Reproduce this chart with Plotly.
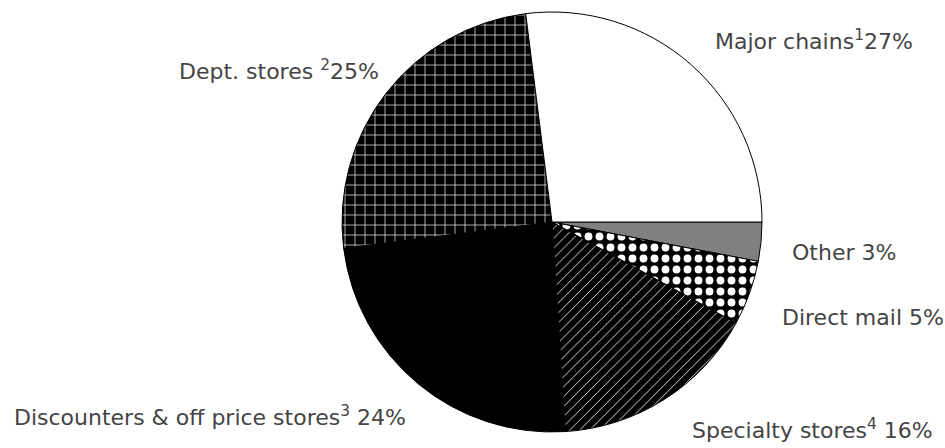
import plotly.graph_objects as go

# ---- data ----
labels = ["Other", "Direct mail", "Specialty stores", "Discounters & off price stores", "Dept. stores", "Major chains"]
values = [3, 5, 16, 24, 25, 27]
footnotes = ["", "", "4", "3", "2", "1"]

# ---- styles ----
fill_colors = ["#808080", "#000000", "#000000", "#000000", "#000000", "#ffffff"]
pattern_shapes = ["", ".", "/", "", "+", ""]
pattern_fg = ["#808080", "#ffffff", "#ffffff", "#000000", "#ffffff", "#ffffff"]
pattern_bg = ["#808080", "#000000", "#000000", "#000000", "#000000", "#ffffff"]
pattern_size = [8, 11, 7, 8, 10, 8]
pattern_solidity = [0.3, 0.4, 0.12, 0.3, 0.13, 0.3]

# label placement (pixel anchors: left x, middle y)
label_pos = {
    "Other": (790, 252),
    "Direct mail": (780, 317),
    "Specialty stores": (690, 429),
    "Discounters & off price stores": (12, 416),
    "Dept. stores": (177, 70),
    "Major chains": (713, 40),
}

W, H = 945, 448
cx, cy, r = 552, 222, 210

fig = go.Figure(go.Pie(
    labels=labels,
    values=values,
    sort=False,
    direction="clockwise",
    rotation=90,
    textinfo="none",
    hoverinfo="skip",
    showlegend=False,
    marker=dict(
        colors=fill_colors,
        line=dict(color="#000000", width=1),
        pattern=dict(
            shape=pattern_shapes,
            fgcolor=pattern_fg,
            bgcolor=pattern_bg,
            size=pattern_size,
            solidity=pattern_solidity,
            fillmode="replace",
        ),
    ),
    domain=dict(x=[(cx - r) / W, (cx + r) / W], y=[(H - cy - r) / H, (H - cy + r) / H]),
))

annotations = []
for lab, val, fn in zip(labels, values, footnotes):
    if fn:
        if lab == "Dept. stores":
            txt = f"{lab} <sup>{fn}</sup>{val}%"
        elif lab == "Major chains":
            txt = f"{lab}<sup>{fn}</sup>{val}%"
        else:
            txt = f"{lab}<sup>{fn}</sup> {val}%"
    else:
        txt = f"{lab} {val}%"
    px, py = label_pos[lab]
    annotations.append(dict(
        text=txt, x=px / W, y=1 - py / H, xref="paper", yref="paper",
        xanchor="left", yanchor="middle", showarrow=False,
        font=dict(family="DejaVu Sans", size=22, color="#444444"),
    ))

fig.update_layout(
    width=W, height=H,
    margin=dict(l=0, r=0, t=0, b=0),
    paper_bgcolor="#ffffff",
    plot_bgcolor="#ffffff",
    annotations=annotations,
)

fig.write_html(
    "out.html",
    config={"displayModeBar": False},
    post_script="document.body.style.margin='0';",
)
